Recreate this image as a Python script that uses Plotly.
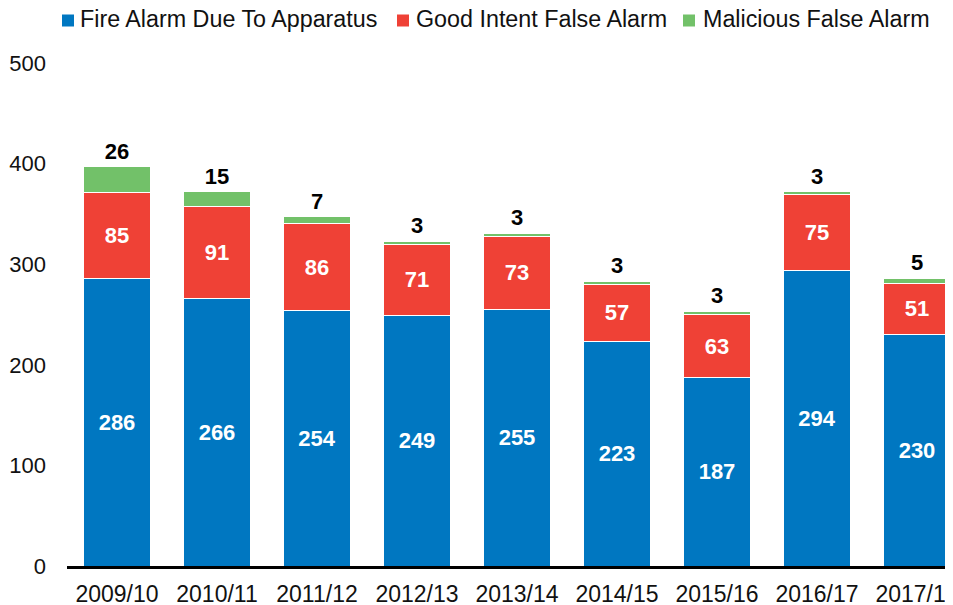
import plotly.graph_objects as go

years = ["2009/10", "2010/11", "2011/12", "2012/13", "2013/14", "2014/15", "2015/16", "2016/17", "2017/18"]
apparatus = [286, 266, 254, 249, 255, 223, 187, 294, 230]
good_intent = [85, 91, 86, 71, 73, 57, 63, 75, 51]
malicious = [26, 15, 7, 3, 3, 3, 3, 3, 5]
series_names = ["Fire Alarm Due To Apparatus", "Good Intent False Alarm", "Malicious False Alarm"]

FONT = "Arial, Liberation Sans, sans-serif"
BLUE = "#0077C1"
RED = "#EF4136"
GREEN = "#72C169"
COLORS = [BLUE, RED, GREEN]

# the page places the plot div 8px from the top-left corner (body margin)
OFF = 8
W, H = 953 - OFF, 605 - OFF
ML, MR, MT, MB = 67 - OFF, 0, 63 - OFF, 39
PW, PH = W - ML - MR, H - MT - MB


def px_to_paper(px, py):
    # px, py: screen pixel coordinates
    return (px - OFF - ML) / PW, (H - MB - (py - OFF)) / PH


fig = go.Figure()
fig.add_bar(x=years, y=apparatus, name=series_names[0], showlegend=False,
            marker=dict(color=BLUE, line=dict(color="white", width=1)),
            text=apparatus, textposition="inside", insidetextanchor="middle",
            textfont=dict(color="white", size=22, family=FONT, weight="bold"))
fig.add_bar(x=years, y=good_intent, name=series_names[1], showlegend=False,
            marker=dict(color=RED, line=dict(color="white", width=1)),
            text=good_intent, textposition="inside", insidetextanchor="middle",
            textfont=dict(color="white", size=22, family=FONT, weight="bold"))
fig.add_bar(x=years, y=malicious, name=series_names[2], showlegend=False,
            marker=dict(color=GREEN, line=dict(color="white", width=1)),
            text=malicious, textposition="outside", constraintext="none",
            outsidetextfont=dict(color="black", size=22, family=FONT, weight="bold"),
            cliponaxis=False)

# custom legend (squares + labels) to mimic the compact spacing of the original
legend_sq_left = [62, 397, 683]
legend_txt_left = [78, 414, 701]
shapes = []
annotations = []
for name, col, sx, tx in zip(series_names, COLORS, legend_sq_left, legend_txt_left):
    x0, y0 = px_to_paper(sx, 26.5)
    x1, y1 = px_to_paper(sx + 12, 14.5)
    shapes.append(dict(type="rect", xref="paper", yref="paper", x0=x0, x1=x1, y0=y0, y1=y1,
                       fillcolor=col, line=dict(width=0)))
    ax, ay = px_to_paper(tx, 19.5)
    annotations.append(dict(text=name, xref="paper", yref="paper", x=ax, y=ay,
                            xanchor="left", yanchor="middle", showarrow=False,
                            font=dict(size=23.3, family=FONT, color="#111111")))

fig.update_layout(
    width=W, height=H,
    barmode="stack", bargap=0.33,
    paper_bgcolor="white", plot_bgcolor="white",
    margin=dict(l=ML, r=MR, t=MT, b=MB, autoexpand=False),
    font=dict(family=FONT, size=22, color="#111111"),
    showlegend=False,
    shapes=shapes, annotations=annotations,
)
fig.update_xaxes(range=[-0.5, 8.36], showline=True, linecolor="black", linewidth=3,
                 ticks="", showgrid=False, tickfont=dict(size=23), ticklabelstandoff=5,
                 automargin=False)
fig.update_yaxes(range=[0, 500], dtick=100, showline=False, showgrid=False, zeroline=False,
                 ticks="", tickfont=dict(size=22), ticklabelstandoff=20, automargin=False)

fig.write_html("out.html")
